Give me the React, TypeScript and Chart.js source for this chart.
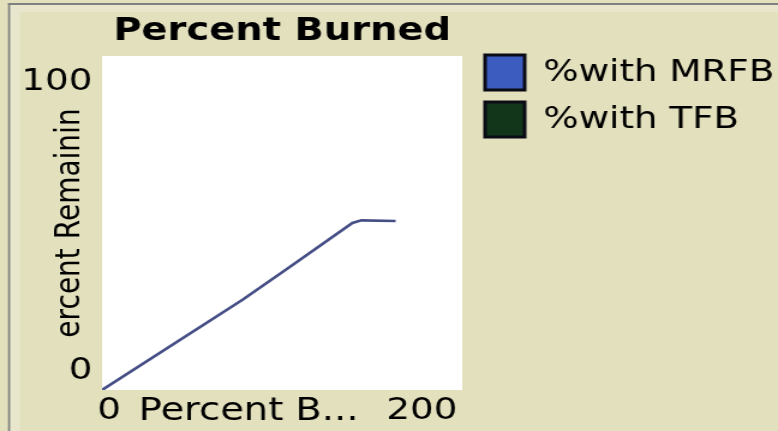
import React, { useEffect, useRef } from 'react';
import Chart from 'chart.js/auto';

// ---- data ----
const chartTitle = 'Percent Burned';
const xAxisTitle = 'Percent B...';
const yAxisTitle = 'ercent Remainin';
const seriesNames = ['%with MRFB', '%with TFB'];
const xTickValues = [0, 200];
const xTickLabels = ['0', '200'];
const yTickValues = [0, 100];
const yTickLabels = ['0', '100'];
const mrfbX = [0, 78, 103, 139, 144, 163];
const mrfbY = [0, 27, 36.4, 50, 50.8, 50.6];
const tfbX: number[] = [];
const tfbY: number[] = [];

// ---- layout (internal canvas is stretched horizontally like the reference) ----
const W = 648;
const H = 431;
const SX = 778 / W;
const FONT = 'DejaVu Sans';

const fixBox = (w?: number, h?: number) => (s: any) => {
  if (w !== undefined) s.width = w;
  if (h !== undefined) s.height = h;
  s.paddingLeft = 0;
  s.paddingRight = 0;
  s.paddingTop = 0;
  s.paddingBottom = 0;
};

const bgPlugin = {
  id: 'netlogoBg',
  beforeDraw(chart: any) {
    const { ctx, chartArea: a } = chart;
    ctx.save();
    ctx.fillStyle = '#e2e0bd';
    ctx.fillRect(0, 0, W, H);
    ctx.fillStyle = '#e8e7cd';
    ctx.fillRect(8.3, 5, 8.4, H);
    ctx.fillRect(8.3, 5, W, 7);
    ctx.fillStyle = '#808080';
    ctx.fillRect(6.7, 3, 1.7, H);
    ctx.fillRect(6.7, 3, W, 2);
    ctx.fillStyle = '#ffffff';
    ctx.fillRect(a.left, a.top, a.right - a.left, a.bottom - a.top);
    ctx.restore();
  },
};

export default function App() {
  const ref = useRef<HTMLCanvasElement | null>(null);

  useEffect(() => {
    if (!ref.current) return;
    const chart = new Chart(ref.current, {
      type: 'line',
      data: {
        datasets: [
          {
            label: seriesNames[0],
            data: mrfbX.map((x, i) => ({ x, y: mrfbY[i] })),
            borderColor: '#454f86',
            backgroundColor: '#3c5cbf',
            borderWidth: 2.6,
            pointRadius: 0,
            tension: 0,
            fill: false,
          },
          {
            label: seriesNames[1],
            data: tfbX.map((x, i) => ({ x, y: tfbY[i] })),
            borderColor: '#12361a',
            backgroundColor: '#12361a',
            borderWidth: 2.6,
            pointRadius: 0,
            tension: 0,
            fill: false,
          },
        ],
      },
      options: {
        animation: false,
        responsive: false,
        devicePixelRatio: 1,
        layout: { padding: 0 },
        plugins: {
          title: { display: false },
          tooltip: { enabled: false },
          legend: {
            position: 'right',
            align: 'start',
            maxWidth: 256,
            title: { display: true, text: '', padding: 0, font: { size: 10, lineHeight: '43px' } },
            labels: {
              boxWidth: 33,
              boxHeight: 35,
              padding: 12,
              color: '#000',
              font: { family: FONT, size: 31 },
              generateLabels: (c: any) =>
                (Chart as any).defaults.plugins.legend.labels
                  .generateLabels(c)
                  .map((l: any) => ({ ...l, strokeStyle: '#0b0b16', lineWidth: 3 })),
            },
          },
        },
        scales: {
          x: {
            type: 'linear',
            position: 'bottom',
            min: 0,
            max: 200,
            afterBuildTicks: (s: any) => {
              s.ticks = xTickValues.map((v) => ({ value: v }));
            },
            afterFit: fixBox(undefined, 41),
            grid: { display: false, drawTicks: false },
            border: { display: false },
            ticks: {
              align: 'inner',
              maxRotation: 0,
              minRotation: 0,
              padding: 5.5,
              labelOffset: -4,
              color: '#000',
              font: { family: FONT, size: 31, lineHeight: 1 },
              callback: (v: any) => xTickLabels[xTickValues.indexOf(Number(v))],
            },
            title: {
              display: true,
              text: '   ' + xAxisTitle,
              align: 'start',
              color: '#000',
              font: { family: FONT, size: 32, lineHeight: 1 },
              padding: { top: 0, bottom: 3.7 },
            },
          },
          x2: {
            type: 'linear',
            position: 'top',
            display: true,
            afterFit: fixBox(undefined, 56),
            grid: { display: false, drawTicks: false },
            border: { display: false },
            ticks: { display: false },
            title: {
              display: true,
              text: chartTitle,
              color: '#000',
              font: { family: FONT, size: 32, weight: 'bold', lineHeight: 1 },
              padding: { top: 16, bottom: 0 },
            },
          },
          y: {
            type: 'linear',
            position: 'left',
            min: 0,
            max: 100,
            afterBuildTicks: (s: any) => {
              s.ticks = yTickValues.map((v) => ({ value: v }));
            },
            afterFit: fixBox(85, undefined),
            grid: { display: false, drawTicks: false },
            border: { display: false },
            ticks: {
              padding: 8,
              color: '#000',
              font: (ctx: any) => ({
                family: FONT,
                size: 31,
                lineHeight: ctx.index === 0 ? '37.4px' : '52.6px',
              }),
              callback: (v: any) => {
                const i = yTickValues.indexOf(Number(v));
                const lab = yTickLabels[i];
                return i === 0 ? [lab, ''] : ['', lab];
              },
            },
            title: {
              display: true,
              text: yAxisTitle,
              color: '#000',
              font: { family: FONT, size: 28, lineHeight: 1 },
              padding: { top: 44.6, bottom: 0 },
            },
          },
          y2: {
            type: 'linear',
            position: 'right',
            display: true,
            afterFit: fixBox(7, undefined),
            grid: { display: false, drawTicks: false },
            border: { display: false },
            ticks: { display: false },
            title: { display: false },
          },
        },
      } as any,
      plugins: [bgPlugin],
    });
    return () => chart.destroy();
  }, []);

  return (
    <div
      style={{
        position: 'absolute',
        left: 0,
        top: 0,
        width: W,
        height: H,
        transform: `scale(${SX}, 1)`,
        transformOrigin: '0 0',
      }}
    >
      <canvas ref={ref} width={W} height={H} style={{ display: 'block', width: W, height: H }} />
    </div>
  );
}
